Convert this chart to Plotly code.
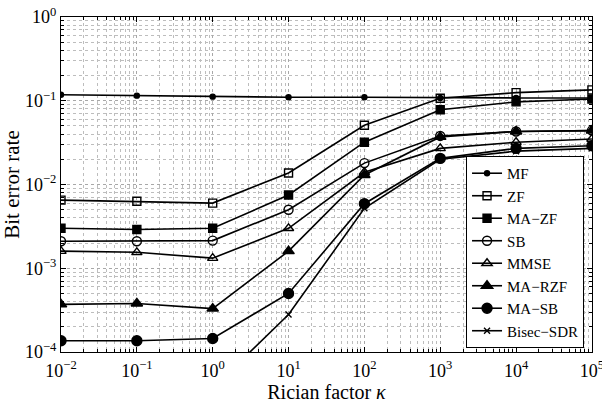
import plotly.graph_objects as go

kappa = [1e-2, 1e-1, 1e0, 1e1, 1e2, 1e3, 1e4, 1e5]

mf = [0.118, 0.115, 0.112, 0.110, 0.110, 0.108, 0.108, 0.108]
zf = [0.0065, 0.0063, 0.0060, 0.0137, 0.051, 0.107, 0.125, 0.135]
ma_zf = [0.0030, 0.0029, 0.0030, 0.0075, 0.032, 0.078, 0.097, 0.105]
sb = [0.0021, 0.0021, 0.00214, 0.0050, 0.018, 0.038, 0.043, 0.044]
mmse = [0.0016, 0.00155, 0.00132, 0.0030, 0.014, 0.027, 0.032, 0.035]
ma_rzf = [0.00037, 0.00038, 0.00033, 0.00160, 0.013, 0.037, 0.043, 0.044]
ma_sb = [0.000136, 0.000136, 0.000145, 0.00050, 0.0059, 0.0205, 0.027, 0.029]
bisec_sdr = [0.00003, 0.000033, 0.000037, 0.00028, 0.0052, 0.020, 0.025, 0.027]

x_exponents = [-2, -1, 0, 1, 2, 3, 4, 5]
y_exponents = [-4, -3, -2, -1, 0]


def sup_label(e):
    s = str(e).replace("-", "\u2212")
    return "10<sup>" + s + "</sup>"


x_tick_vals = [10.0 ** e for e in x_exponents]
x_tick_text = [sup_label(e) for e in x_exponents]
y_tick_vals = [10.0 ** e for e in y_exponents]
y_tick_text = [sup_label(e) for e in y_exponents]
x_minor_vals = [m * 10.0 ** e for e in x_exponents[:-1] for m in range(2, 10)]
y_minor_vals = [m * 10.0 ** e for e in y_exponents[:-1] for m in range(2, 10)]

series = [
    ("MF", mf, "circle", 5),
    ("ZF", zf, "square-open", 8),
    ("MA\u2212ZF", ma_zf, "square", 8),
    ("SB", sb, "circle-open", 9),
    ("MMSE", mmse, "triangle-up-open", 9),
    ("MA\u2212RZF", ma_rzf, "triangle-up", 10),
    ("MA\u2212SB", ma_sb, "circle", 10),
    ("Bisec\u2212SDR", bisec_sdr, "x-thin-open", 6),
]

fig = go.Figure()
for name, vals, sym, size in series:
    fig.add_trace(go.Scatter(
        x=kappa, y=vals, name=name, mode="lines+markers",
        line=dict(color="black", width=1.6),
        marker=dict(symbol=sym, size=size, color="black",
                    line=dict(color="black", width=1.4)),
    ))

font_family = "Liberation Serif"


def axis_style(minor_vals):
    return dict(
        showline=True, linecolor="black", linewidth=1, mirror="allticks",
        ticks="inside", ticklen=5, tickcolor="black",
        showgrid=True, gridcolor="#a8a8a8", griddash="dot", gridwidth=1,
        zeroline=False, ticklabeloverflow="allow", automargin=False,
        tickfont=dict(family=font_family, size=18, color="black"),
        minor=dict(tickmode="array", tickvals=minor_vals,
                   ticks="inside", ticklen=3, tickcolor="black",
                   showgrid=True, gridcolor="#bdbdbd", griddash="dot", gridwidth=1),
    )


fig.update_xaxes(type="log", range=[-2, 5.001], tickmode="array",
                 tickvals=x_tick_vals, ticktext=x_tick_text,
                 ticklabelstandoff=2,
                 title=dict(text="Rician factor <i>\u03ba</i>",
                            font=dict(family=font_family, size=20, color="black"),
                            standoff=0),
                 **axis_style(x_minor_vals))
fig.update_yaxes(type="log", range=[-4, 0], tickmode="array",
                 tickvals=y_tick_vals, ticktext=y_tick_text,
                 title=dict(text="Bit error rate",
                            font=dict(family=font_family, size=21, color="black"),
                            standoff=0),
                 **axis_style(y_minor_vals))

fig.update_layout(
    width=602, height=403,
    margin=dict(l=61, r=10, t=17, b=51),
    plot_bgcolor="white", paper_bgcolor="white",
    font=dict(family=font_family, color="black"),
    legend=dict(x=0.985, y=0.012, xanchor="right", yanchor="bottom",
                bgcolor="white", bordercolor="black", borderwidth=1,
                font=dict(family=font_family, size=15, color="black"),
                tracegroupgap=0, itemwidth=30),
    showlegend=True,
)

fig.write_html("out.html")
